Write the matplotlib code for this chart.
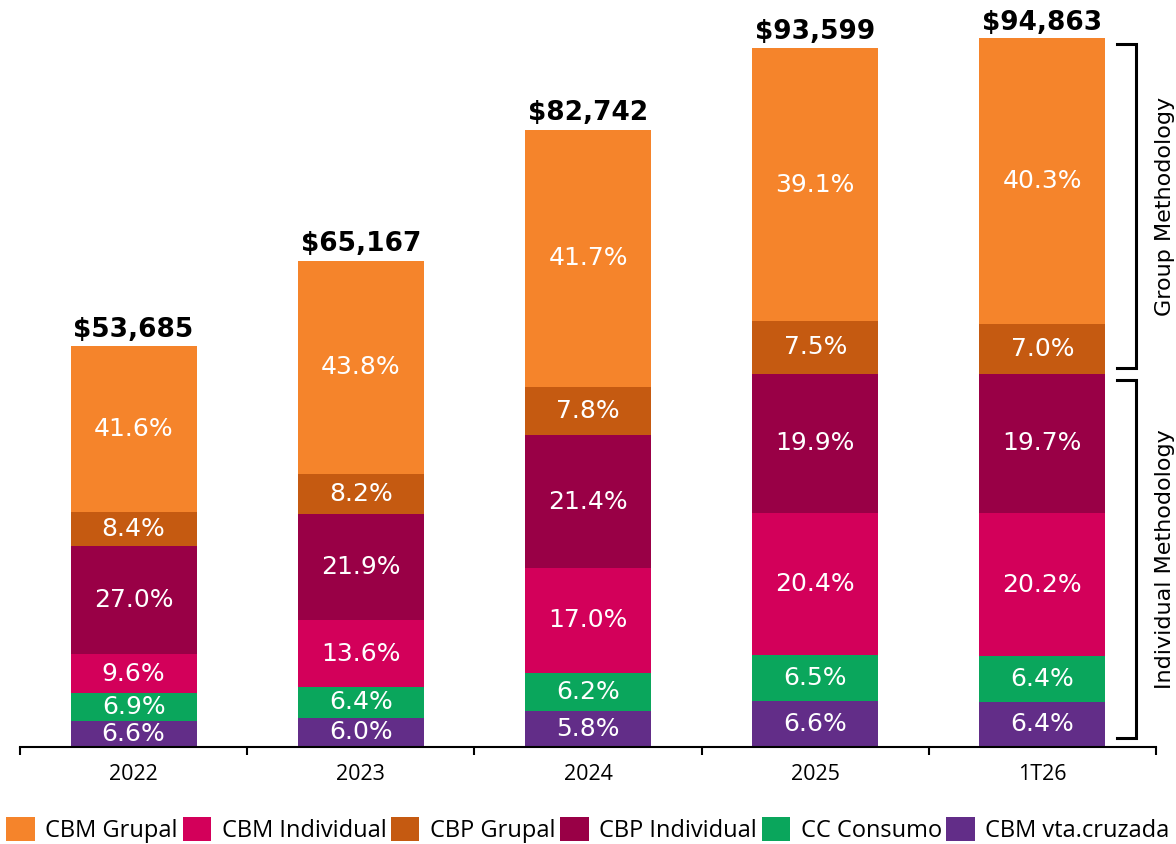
import matplotlib
matplotlib.use("Agg")
import matplotlib.pyplot as plt
import numpy as np

categorias = ["2022", "2023", "2024", "2025", "1T26"]
totales = [53685, 65167, 82742, 93599, 94863]

# porcentajes por segmento (de abajo hacia arriba)
series = ["CBM vta.cruzada", "CC Consumo", "CBM Individual", "CBP Individual", "CBP Grupal", "CBM Grupal"]
cbm_vta = [6.6, 6.0, 5.8, 6.6, 6.4]
cc_consumo = [6.9, 6.4, 6.2, 6.5, 6.4]
cbm_ind = [9.6, 13.6, 17.0, 20.4, 20.2]
cbp_ind = [27.0, 21.9, 21.4, 19.9, 19.7]
cbp_grupal = [8.4, 8.2, 7.8, 7.5, 7.0]
cbm_grupal = [41.6, 43.8, 41.7, 39.1, 40.3]
colores = ["#622D88", "#0AA65C", "#D3005A", "#990046", "#C55A11", "#F5842B"]

legend_order = ["CBM Grupal", "CBM Individual", "CBP Grupal", "CBP Individual", "CC Consumo", "CBM vta.cruzada"]

pcts = [cbm_vta, cc_consumo, cbm_ind, cbp_ind, cbp_grupal, cbm_grupal]

fig = plt.figure(figsize=(11.76, 8.44), dpi=100)
ax = fig.add_axes([20/1176, 97/844, 1136/1176, 747/844])

x = np.arange(len(categorias))
w = 0.555
base = np.zeros(len(categorias))
handles = {}
for nombre, p, col in zip(series, pcts, colores):
    alto = np.array(totales) * np.array(p) / 100
    b = ax.bar(x, alto, w, bottom=base, color=col, label=nombre)
    handles[nombre] = b
    for xi, bi, hi, pi in zip(x, base, alto, p):
        ax.text(xi, bi + hi/2, f"{pi:.1f}%", ha="center", va="center",
                color="white", fontsize=18, family="DejaVu Sans")
    base = base + alto

for xi, t in zip(x, totales):
    ax.annotate(f"${t:,}", (xi, t), xytext=(0, 2), textcoords="offset points",
                ha="center", va="bottom", fontsize=19, fontweight="bold")

ax.set_xlim(-0.5, len(categorias) - 0.5)
ax.set_ylim(0, 100000)
for s in ["top", "left", "right"]:
    ax.spines[s].set_visible(False)
ax.spines["bottom"].set_linewidth(1.5)
ax.set_yticks([])
ax.set_xticks(x)
ax.set_xticklabels(categorias, fontsize=15.5, family="Open Sans")
ax.tick_params(axis="x", which="major", length=0, pad=12)
ax.set_xticks(np.arange(len(categorias) + 1) - 0.5, minor=True)
ax.tick_params(axis="x", which="minor", length=6, width=1.5, direction="out")

# corchetes a la derecha
ult = totales[-1]
frontera = ult * (cbm_vta[-1] + cc_consumo[-1] + cbm_ind[-1] + cbp_ind[-1]) / 100
x0, x1 = 4.33, 4.41
grupos = [("Group Methodology", ult - 800, frontera + 800),
          ("Individual Methodology", frontera - 900, 1200)]
for texto, top, bot in grupos:
    ax.plot([x0, x1, x1, x0], [top, top, bot, bot], color="black", lw=2.2,
            clip_on=False, solid_joinstyle="miter")
    ax.text(4.54, (top + bot) / 2, texto, rotation=90, ha="center", va="center",
            fontsize=16, family="DejaVu Sans", clip_on=False)

hs = [handles[n] for n in legend_order]
fig.legend(hs, legend_order, loc="center", bbox_to_anchor=(0.5, 14/844), ncol=6,
           frameon=False, prop={"family": "Open Sans", "size": 17},
           handlelength=1.2, handleheight=1.2, handletextpad=0.45, columnspacing=0.2,
           borderaxespad=0, borderpad=0)

fig.savefig("out.png", dpi=100)
